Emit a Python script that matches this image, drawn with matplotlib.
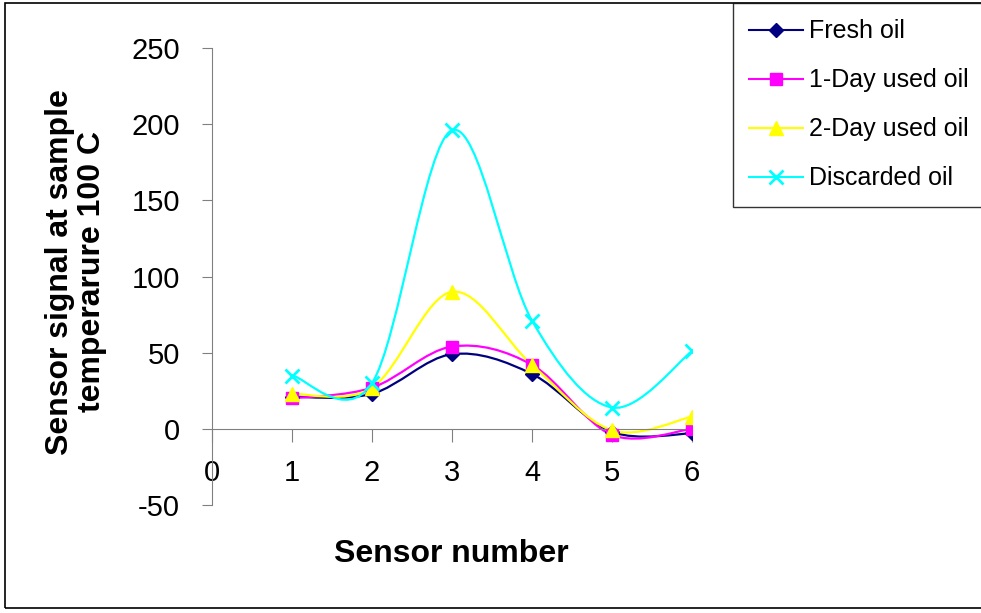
import numpy as np
import matplotlib.pyplot as plt
from matplotlib.path import Path
from matplotlib.patches import PathPatch, Rectangle
import matplotlib.lines as lines

plt.rcParams['font.family'] = ['Liberation Sans', 'DejaVu Sans']
plt.rcParams['axes.unicode_minus'] = False

sensors = [1, 2, 3, 4, 5, 6]
fresh_oil = [21, 23, 49, 36, -2, -3]
day1_oil = [20, 27, 54, 42, -4, 0]
day2_oil = [23, 27, 90, 42, -1, 8]
discarded_oil = [35, 30, 196, 71, 14, 51]

labels = ['Fresh oil', '1-Day used oil', '2-Day used oil', 'Discarded oil']
colors = ['#000080', '#FF00FF', '#FFFF00', '#00FFFF']
markers = ['D', 's', '^', 'x']
msizes = [7, 9, 10, 10]


def smooth_path(x, y):
    # excel style smoothed line: cubic bezier, control points from neighbours
    x = np.asarray(x, float)
    y = np.asarray(y, float)
    n = len(x)
    verts = [(x[0], y[0])]
    codes = [Path.MOVETO]
    for i in range(n - 1):
        x0, y0 = (x[i - 1], y[i - 1]) if i > 0 else (x[i], y[i])
        x3, y3 = (x[i + 2], y[i + 2]) if i + 2 < n else (x[i + 1], y[i + 1])
        c1 = (x[i] + (x[i + 1] - x0) / 6, y[i] + (y[i + 1] - y0) / 6)
        c2 = (x[i + 1] - (x3 - x[i]) / 6, y[i + 1] - (y3 - y[i]) / 6)
        verts += [c1, c2, (x[i + 1], y[i + 1])]
        codes += [Path.CURVE4] * 3
    return Path(verts, codes)


fig = plt.figure(figsize=(9.81, 6.13), dpi=100)
ax = fig.add_axes([212 / 981, 1 - 505 / 613, 480 / 981, 457 / 613])

series = [fresh_oil, day1_oil, day2_oil, discarded_oil]
handles = []
for vals, c, m, ms, lab in zip(series, colors, markers, msizes, labels):
    ax.add_patch(PathPatch(smooth_path(sensors, vals), facecolor='none',
                           edgecolor=c, lw=1.6, zorder=2))
    ax.plot(sensors, vals, linestyle='none', marker=m, color=c, ms=ms,
            mew=2 if m == 'x' else 1, zorder=3)
    handles.append(lines.Line2D([0], [0], color=c, marker=m, ms=ms,
                                mew=2 if m == 'x' else 1, lw=1.5))

ax.set_xlim(0, 6)
ax.set_ylim(-50, 250)
ax.set_xticks(range(0, 7))
ax.set_yticks(range(-50, 251, 50))

for s in ['top', 'right']:
    ax.spines[s].set_visible(False)
ax.spines['bottom'].set_position(('data', 0))
ax.spines['left'].set_color('#808080')
ax.spines['bottom'].set_color('#808080')
ax.tick_params(axis='y', direction='out', length=7, color='#808080',
               labelsize=21, pad=16)
ax.tick_params(axis='x', direction='out', length=9, color='#808080',
               labelsize=21, pad=13)

ax.set_ylabel('Sensor signal at sample\ntemperarure 100 C', fontsize=23,
              fontweight='bold', linespacing=1.1)
ax.yaxis.set_label_coords(-0.218, 0.51)
ax.set_xlabel('Sensor number', fontsize=23, fontweight='bold')
ax.xaxis.set_label_coords(0.498, -0.075)

leg = fig.legend(handles, labels, loc='upper left',
                 bbox_to_anchor=(733 / 981, 1 - 3 / 613),
                 bbox_transform=fig.transFigure, fontsize=18,
                 frameon=True, fancybox=False, edgecolor='black',
                 borderaxespad=0, handlelength=2.16, labelspacing=1.0,
                 borderpad=0.65, handletextpad=0.24)
leg.get_frame().set_linewidth(1.0)

fig.patches.append(Rectangle((5 / 981, 5 / 613), 1.1, 1 - 8 / 613,
                             transform=fig.transFigure, fill=False,
                             edgecolor='black', lw=1.2))

fig.savefig('out.png', dpi=100)
